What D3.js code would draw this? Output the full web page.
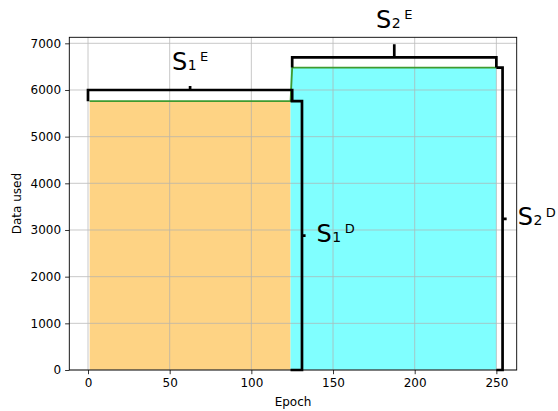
<!DOCTYPE html>
<html><head><meta charset="utf-8">
<script src="https://cdn.jsdelivr.net/npm/d3@7"></script>
<style>body{margin:0;background:#fff}svg{display:block}text{font-family:"DejaVu Sans",sans-serif}</style>
</head><body><svg id="c" width="558" height="411"></svg>
<script>
// ---- data ----
const xTicks = [0, 50, 100, 150, 200, 250];
const yTicks = [0, 1000, 2000, 3000, 4000, 5000, 6000, 7000];
const stage1Span = [1, 124];      // epochs of stage 1 (orange)
const stage2Span = [124, 250];    // epochs of stage 2 (cyan)
const stage1Data = 5760;
const stage2Data = 6480;
const lineEpochs = [1, 124, 125, 250];
const lineData   = [5760, 5760, 6480, 6480];
// brackets
const bracketLabels = ["S", "S", "S", "S"];
const bracketSubs   = ["1", "2", "1", "2"];
const bracketSups   = ["E", "E", "D", "D"];
const bracketKinds  = ["h", "h", "v", "v"];
const bracketFrom   = [0, 125, 0, 0];
const bracketTo     = [125, 250, 5760, 6480];
const bracketAt     = [6000, 6700, 131, 253.8];
const bracketArm    = [5760, 6480, 124, 250];
const bracketStem   = [6085, 6980, 133.2, 256.3];

const W = 558, H = 411;
const m = {l: 69.3, r: 516.7, t: 37.3, b: 370};
const svg = d3.select("#c");
const x = d3.scaleLinear().domain([-11.45, 262.45]).range([m.l, m.r]);
const y = d3.scaleLinear().domain([0, 7129]).range([m.b, m.t]);

const g = svg.append("g");
g.append("rect").attr("x", x(stage1Span[0])).attr("width", x(stage1Span[1]) - x(stage1Span[0]))
  .attr("y", y(stage1Data)).attr("height", y(0) - y(stage1Data)).attr("fill", "#fed384");
g.append("rect").attr("x", x(stage2Span[0])).attr("width", x(stage2Span[1]) - x(stage2Span[0]))
  .attr("y", y(stage2Data)).attr("height", y(0) - y(stage2Data)).attr("fill", "#80ffff");

const grid = svg.append("g").attr("stroke", "#b0b0b0").attr("stroke-width", 0.8).attr("opacity", 0.85);
xTicks.forEach(t => grid.append("line").attr("x1", x(t)).attr("x2", x(t)).attr("y1", m.t).attr("y2", m.b));
yTicks.forEach(t => grid.append("line").attr("y1", y(t)).attr("y2", y(t)).attr("x1", m.l).attr("x2", m.r));

const pts = lineEpochs.map((e, i) => [e, lineData[i]]);
svg.append("path").attr("d", d3.line().x(d => x(d[0])).y(d => y(d[1]))(pts))
  .attr("fill", "none").attr("stroke", "#3f9b2f").attr("stroke-width", 1.8);

const xa = svg.append("g").attr("transform", `translate(0,${m.b})`)
  .call(d3.axisBottom(x).tickValues(xTicks).tickSize(4.2).tickPadding(4));
const ya = svg.append("g").attr("transform", `translate(${m.l},0)`)
  .call(d3.axisLeft(y).tickValues(yTicks).tickSize(4.2).tickPadding(4).tickFormat(d3.format("d")));
[xa, ya].forEach(a => {
  a.select(".domain").remove();
  a.selectAll("text").attr("font-size", 12).attr("fill", "#000").style("font-family", "DejaVu Sans");
  a.selectAll("line").attr("stroke", "#000").attr("stroke-width", 0.8);
});
svg.append("rect").attr("x", m.l).attr("y", m.t).attr("width", m.r - m.l).attr("height", m.b - m.t)
  .attr("fill", "none").attr("stroke", "#000").attr("stroke-width", 0.9);

svg.append("text").attr("x", (m.l + m.r) / 2).attr("y", 406).attr("text-anchor", "middle")
  .attr("font-size", 12).text("Epoch");
svg.append("text").attr("transform", `translate(21,${(m.t + m.b) / 2}) rotate(-90)`)
  .attr("text-anchor", "middle").attr("font-size", 12).text("Data used");

const bl = svg.append("g").attr("fill", "none").attr("stroke", "#000").attr("stroke-width", 2.7)
  .attr("stroke-linejoin", "miter");
bracketKinds.forEach((k, i) => {
  let d, tx, ty, anchor;
  if (k === "h") {
    const x0 = x(bracketFrom[i]), x1 = x(bracketTo[i]), yy = y(bracketAt[i]), ya2 = y(bracketArm[i]);
    const cx = (x0 + x1) / 2;
    d = `M${x0},${ya2}V${yy}H${x1}V${ya2}M${cx},${yy}V${y(bracketStem[i])}`;
    tx = cx; ty = y(bracketStem[i]) - 16.5; anchor = "middle";
  } else {
    const y0 = y(bracketFrom[i]), y1 = y(bracketTo[i]), xx = x(bracketAt[i]), xa2 = x(bracketArm[i]);
    const cy = (y0 + y1) / 2;
    d = `M${xa2},${y1}H${xx}V${y0}H${xa2}M${xx},${cy}H${x(bracketStem[i])}`;
    tx = x(bracketStem[i]) + 11; ty = cy + 6.3; anchor = "start";
  }
  bl.append("path").attr("d", d);
  const t = svg.append("text").attr("x", tx).attr("y", ty).attr("text-anchor", anchor)
    .attr("font-size", 24).attr("fill", "#000");
  t.append("tspan").text(bracketLabels[i]);
  t.append("tspan").attr("font-size", 14).attr("dx", 0.5).text(bracketSubs[i]);
  t.append("tspan").attr("font-size", 13).attr("dx", 3.5).attr("dy", -8.5).text(bracketSups[i]);
});
</script></body></html>
